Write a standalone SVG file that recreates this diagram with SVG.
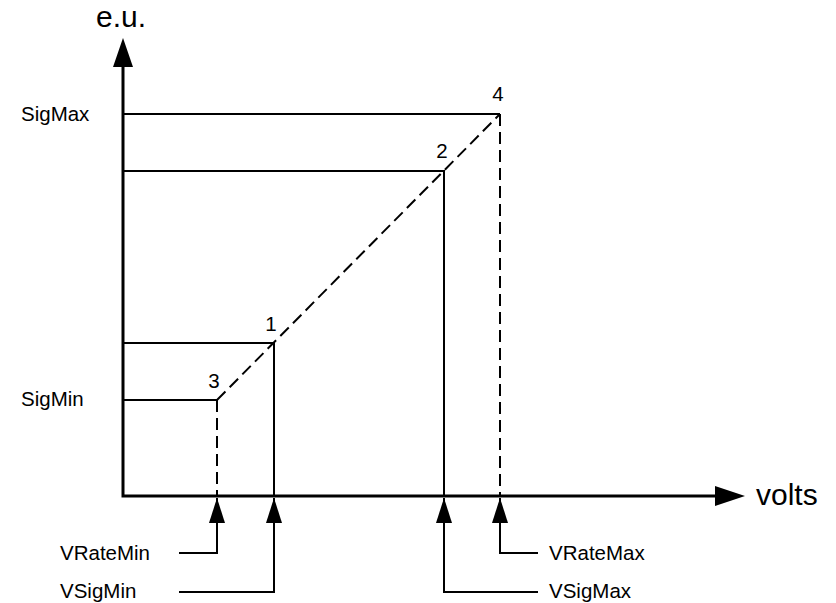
<svg xmlns="http://www.w3.org/2000/svg" width="836" height="603" viewBox="0 0 836 603">
  <style>
    .axis { stroke: #000; stroke-width: 3; fill: none; }
    .line { stroke: #000; stroke-width: 2; fill: none; }
    .dash { stroke: #000; stroke-width: 2; fill: none; stroke-dasharray: 12 6; }
    .big { font-family: "Liberation Sans", Arial, sans-serif; font-size: 30px; fill: #000; }
    .lbl { font-family: "Liberation Sans", Arial, sans-serif; font-size: 20.5px; fill: #000; }
    .num { font-family: "Liberation Sans", Arial, sans-serif; font-size: 20.5px; fill: #000; text-anchor: middle; }
  </style>
  <defs>
    <marker id="tick" viewBox="0 0 25 16" refX="25" refY="8" markerWidth="25" markerHeight="16" markerUnits="userSpaceOnUse" orient="auto">
      <path d="M0,0 L25,8 L0,16 Z" fill="#000"/>
    </marker>
  </defs>
  <rect width="836" height="603" fill="#fff"/>

  <!-- axes -->
  <g id="axes">
    <path class="axis" d="M123,66 V496 H716"/>
    <path d="M123,38 L113,67 L133,67 Z" fill="#000"/>
    <path d="M745,496 L715,486 L715,506 Z" fill="#000"/>
    <text class="big" x="96" y="27">e.u.</text>
    <text class="big" x="756" y="505">volts</text>
  </g>

  <g id="connectors">
    <!-- reference levels -->
    <path class="line" d="M123,114 H500"/>
    <path class="line" d="M123,171 H444 V496"/>
    <path class="line" d="M123,343 H274 V496"/>
    <path class="line" d="M123,400 H217"/>
    <!-- rate line and dashed drops -->
    <path class="dash" d="M217,400 L500,114"/>
    <path class="dash" d="M217,400 V496"/>
    <path class="dash" d="M500,114 V496"/>
    <!-- parameter callouts -->
    <path class="line" d="M179,553 H217 V498" marker-end="url(#tick)"/>
    <path class="line" d="M179,592 H274 V498" marker-end="url(#tick)"/>
    <path class="line" d="M538,553 H500 V498" marker-end="url(#tick)"/>
    <path class="line" d="M538,592 H444 V498" marker-end="url(#tick)"/>
  </g>

  <g id="point-1"><text class="num" x="271" y="331">1</text></g>
  <g id="point-2"><text class="num" x="442" y="158">2</text></g>
  <g id="point-3"><text class="num" x="214" y="388">3</text></g>
  <g id="point-4"><text class="num" x="498" y="101">4</text></g>

  <g id="label-sigmax"><text class="lbl" x="21" y="121">SigMax</text></g>
  <g id="label-sigmin"><text class="lbl" x="21" y="406">SigMin</text></g>
  <g id="label-vratemin"><text class="lbl" x="60" y="560">VRateMin</text></g>
  <g id="label-vsigmin"><text class="lbl" x="60" y="598">VSigMin</text></g>
  <g id="label-vratemax"><text class="lbl" x="549" y="560">VRateMax</text></g>
  <g id="label-vsigmax"><text class="lbl" x="549" y="598">VSigMax</text></g>
</svg>
